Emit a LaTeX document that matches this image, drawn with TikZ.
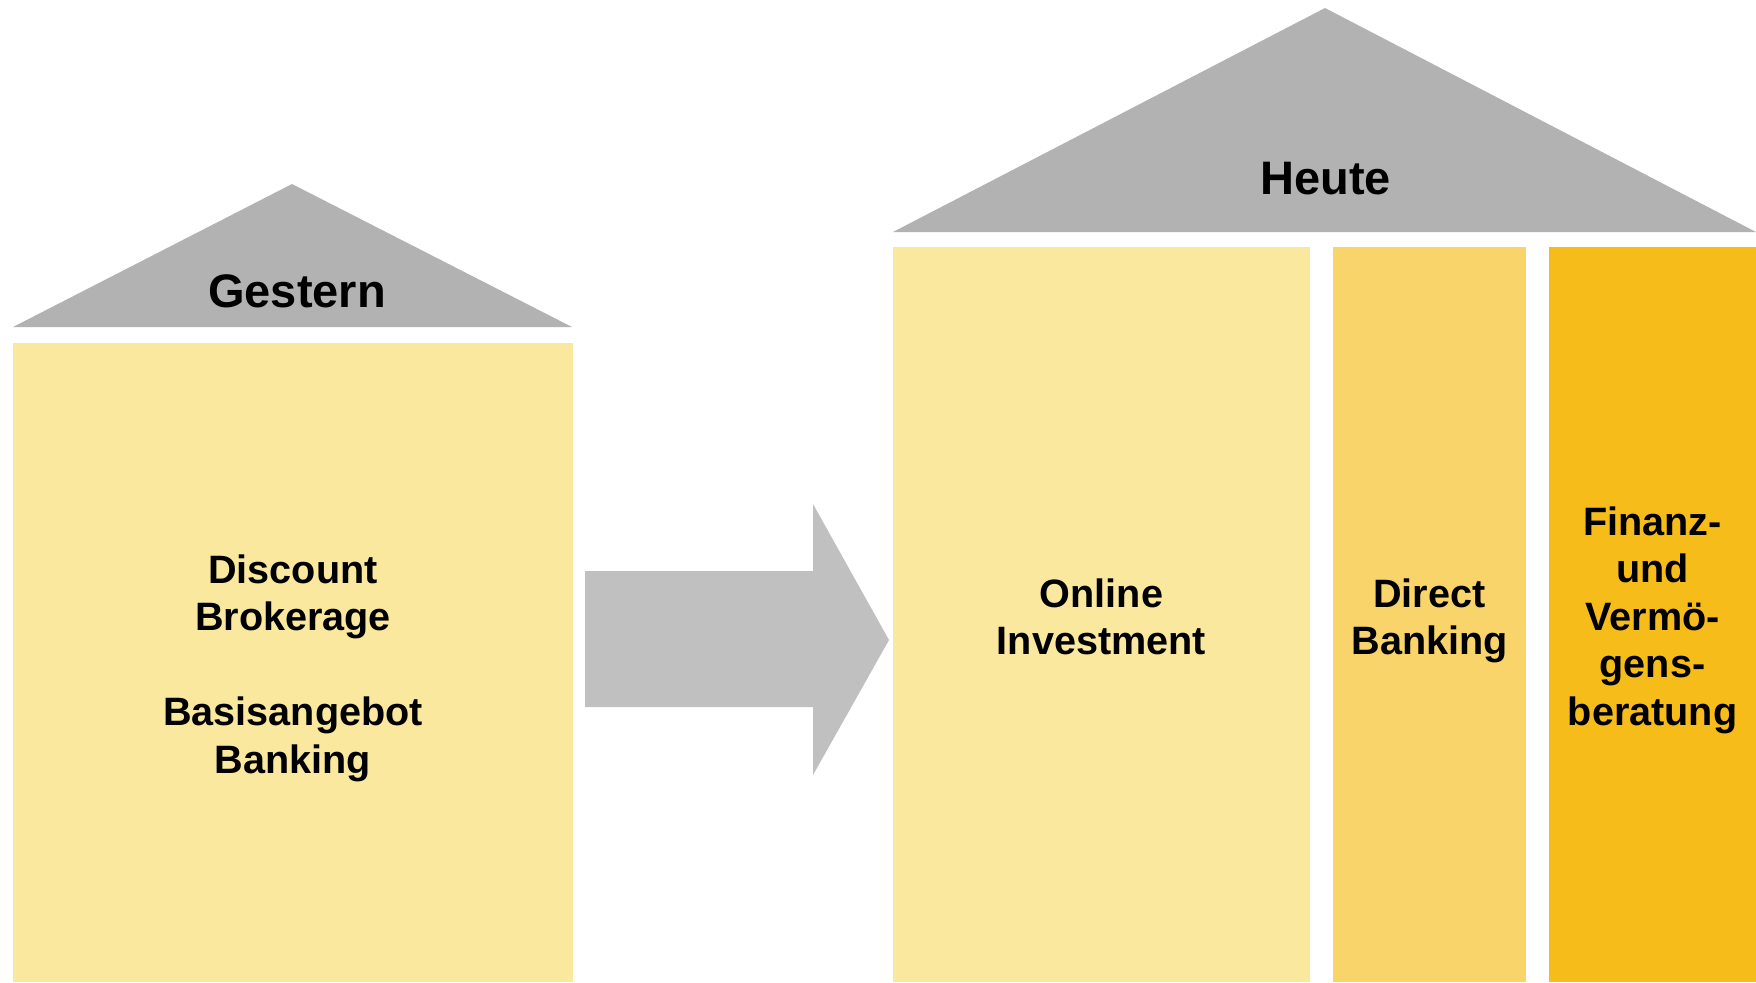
\documentclass[tikz,border=0pt]{standalone}
\usepackage{fontspec}
\setmainfont{Liberation Sans}
\definecolor{roofgray}{HTML}{B2B2B2}
\definecolor{arrowgray}{HTML}{C0C0C0}
\definecolor{yelA}{HTML}{F9E89E}
\definecolor{yelB}{HTML}{F8D46B}
\definecolor{yelC}{HTML}{F6BC1A}
\newcommand{\topstrut}{\rule{0pt}{20pt}}
\begin{document}
\begin{tikzpicture}[x=0.5pt,y=-0.5pt,
  pillar/.style={draw=none,inner sep=0pt,outer sep=0pt},
  pillartext/.style={inner sep=0pt,outer sep=0pt,align=center,anchor=north,
    font=\fontsize{19.8pt}{23.75pt}\selectfont\bfseries},
  rooftext/.style={inner sep=0pt,anchor=base,font=\fontsize{23.5pt}{28pt}\selectfont\bfseries}]
\useasboundingbox (0,0) rectangle (1756,982);
% Gestern
\fill[roofgray] (13,327) -- (292,184) -- (572,327) -- cycle;
\node[rooftext] (gestern) at (297,307) {Gestern};
\node[pillar,fill=yelA,minimum width=280pt,minimum height=319.5pt] (alt) at (293,662.5) {};
\node[pillartext] (alttext) at (293,543) {\topstrut Discount\\Brokerage\\[23.75pt]Basisangebot\\Banking};
% arrow
\fill[arrowgray] (585,571) -- (813,571) -- (813,504) -- (889,640) -- (813,775) -- (813,707) -- (585,707) -- cycle;
% Heute
\fill[roofgray] (893,232) -- (1325,8) -- (1756,232) -- cycle;
\node[rooftext] (heute) at (1325.5,194) {Heute};
\node[pillar,fill=yelA,minimum width=208.5pt,minimum height=367.5pt] (online) at (1101.5,614.5) {};
\node[pillar,fill=yelB,minimum width=96.5pt,minimum height=367.5pt] (direct) at (1429.5,614.5) {};
\node[pillar,fill=yelC,minimum width=103.5pt,minimum height=367.5pt] (finanz) at (1652.5,614.5) {};
\node[pillartext] (onlinetext) at (1101.5,567) {\topstrut Online\\Investment};
\node[pillartext] (directtext) at (1429.5,567) {\topstrut Direct\\Banking};
\node[pillartext] (finanztext) at (1652.5,495) {\topstrut Finanz-\\und\\Verm\"o-\\gens-\\beratung};
\end{tikzpicture}
\end{document}
